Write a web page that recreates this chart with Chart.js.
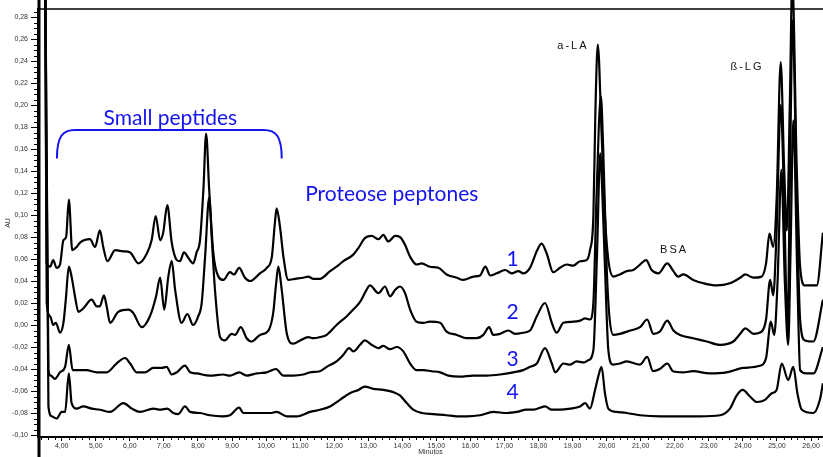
<!DOCTYPE html>
<html>
<head>
<meta charset="utf-8">
<script src="https://cdn.jsdelivr.net/npm/chart.js@4.4.0/dist/chart.umd.min.js"></script>
<style>
  html, body { margin: 0; padding: 0; background: #fff; }
</style>
</head>
<body>
<canvas id="myChart" width="823" height="457"></canvas>
<script>
// retention time (min) and absorbance (AU) for the four whey samples
var time1 = [3.40, 3.50, 3.56, 3.66, 3.75, 3.85, 3.95, 4.05, 4.13, 4.21,
  4.31, 4.44, 4.54, 4.83, 4.98, 5.12, 5.22, 5.34, 5.57, 5.81,
  6.01, 6.25, 6.50, 6.64, 6.76, 6.89, 6.98, 7.10, 7.23, 7.38,
  7.47, 7.59, 7.72, 7.86, 7.96, 8.06, 8.16, 8.24, 8.33, 8.45,
  8.60, 8.75, 8.94, 9.06, 9.21, 9.38, 9.53, 9.82, 10.02, 10.17,
  10.26, 10.31, 10.41, 10.51, 10.65, 10.85, 11.09, 11.24, 11.39, 11.58,
  11.88, 12.07, 12.27, 12.56, 12.71, 12.90, 13.10, 13.30, 13.44, 13.59,
  13.79, 13.93, 14.08, 14.23, 14.42, 14.57, 14.81, 15.06, 15.30, 15.60,
  15.79, 16.09, 16.28, 16.44, 16.58, 16.77, 17.02, 17.21, 17.41, 17.55,
  17.75, 17.96, 18.09, 18.24, 18.43, 18.63, 18.83, 19.02, 19.22, 19.41,
  19.51, 19.61, 19.67, 19.74, 19.85, 19.95, 20.05, 20.20, 20.39, 20.59,
  20.78, 20.98, 21.16, 21.32, 21.52, 21.78, 21.96, 22.10, 22.25, 22.54,
  22.84, 23.23, 23.62, 23.92, 24.07, 24.31, 24.55, 24.68, 24.78, 24.89,
  24.99, 25.11, 25.21, 25.29, 25.38, 25.45, 25.58, 25.68, 25.82, 26.17,
  26.35];
var trace1 = [0.45, 0.40, 0.056, 0.053, 0.059, 0.052, 0.055, 0.077, 0.080, 0.114,
  0.068, 0.071, 0.075, 0.078, 0.071, 0.086, 0.071, 0.058, 0.068, 0.067,
  0.066, 0.056, 0.065, 0.077, 0.099, 0.077, 0.084, 0.109, 0.075, 0.059,
  0.058, 0.066, 0.061, 0.056, 0.066, 0.077, 0.123, 0.174, 0.123, 0.066,
  0.044, 0.041, 0.048, 0.046, 0.052, 0.043, 0.040, 0.047, 0.052, 0.062,
  0.093, 0.106, 0.089, 0.062, 0.041, 0.042, 0.043, 0.044, 0.042, 0.042,
  0.049, 0.053, 0.058, 0.064, 0.070, 0.079, 0.081, 0.078, 0.082, 0.076,
  0.081, 0.080, 0.073, 0.062, 0.055, 0.056, 0.053, 0.052, 0.046, 0.043,
  0.041, 0.044, 0.045, 0.053, 0.045, 0.047, 0.050, 0.047, 0.049, 0.047,
  0.052, 0.068, 0.074, 0.065, 0.048, 0.052, 0.055, 0.054, 0.058, 0.059,
  0.068, 0.099, 0.195, 0.255, 0.175, 0.099, 0.059, 0.044, 0.046, 0.049,
  0.050, 0.055, 0.059, 0.050, 0.047, 0.056, 0.049, 0.044, 0.046, 0.041,
  0.038, 0.036, 0.038, 0.043, 0.046, 0.043, 0.044, 0.056, 0.083, 0.071,
  0.114, 0.239, 0.144, 0.086, 0.205, 0.314, 0.144, 0.053, 0.036, 0.036,
  0.084];

var time2 = [3.40, 3.50, 3.56, 3.66, 3.75, 3.83, 3.95, 4.05, 4.12, 4.21,
  4.29, 4.39, 4.49, 4.63, 4.88, 5.03, 5.12, 5.24, 5.32, 5.42,
  5.66, 5.96, 6.10, 6.35, 6.59, 6.77, 6.89, 7.01, 7.13, 7.23,
  7.33, 7.52, 7.69, 7.86, 8.01, 8.11, 8.21, 8.33, 8.41, 8.50,
  8.65, 8.79, 8.99, 9.09, 9.26, 9.43, 9.58, 9.82, 10.07, 10.21,
  10.29, 10.36, 10.46, 10.61, 10.80, 11.00, 11.24, 11.39, 11.58, 11.78,
  12.07, 12.37, 12.56, 12.76, 12.95, 13.05, 13.30, 13.49, 13.64, 13.79,
  13.93, 14.08, 14.23, 14.42, 14.62, 14.81, 15.11, 15.30, 15.60, 15.89,
  16.18, 16.38, 16.55, 16.67, 16.87, 17.11, 17.31, 17.55, 17.75, 17.95,
  18.19, 18.39, 18.53, 18.73, 19.02, 19.22, 19.37, 19.51, 19.61, 19.70,
  19.83, 19.90, 20.00, 20.08, 20.20, 20.39, 20.69, 20.98, 21.19, 21.37,
  21.56, 21.78, 21.96, 22.15, 22.54, 22.94, 23.33, 23.72, 23.92, 24.07,
  24.31, 24.55, 24.68, 24.80, 24.89, 24.99, 25.11, 25.21, 25.31, 25.38,
  25.46, 25.58, 25.68, 25.82, 26.07, 26.35];
var trace2 = [0.45, 0.40, 0.020, 0.008, 0.000, 0.002, -0.007, 0.002, 0.023, 0.053,
  0.044, 0.026, 0.012, 0.015, 0.023, 0.017, 0.017, 0.027, 0.017, 0.002,
  0.012, 0.014, 0.011, -0.002, 0.008, 0.026, 0.043, 0.014, 0.044, 0.058,
  0.032, 0.002, 0.010, 0.000, 0.008, 0.020, 0.062, 0.116, 0.077, 0.032,
  -0.011, -0.014, -0.008, -0.009, -0.002, -0.012, -0.015, -0.009, -0.005, 0.011,
  0.036, 0.053, 0.032, -0.008, -0.017, -0.014, -0.011, -0.012, -0.011, -0.009,
  0.000, 0.008, 0.014, 0.021, 0.032, 0.036, 0.029, 0.035, 0.026, 0.032,
  0.035, 0.029, 0.014, 0.003, 0.002, 0.003, 0.002, -0.006, -0.009, -0.012,
  -0.012, -0.009, -0.002, -0.009, -0.008, -0.005, -0.008, -0.007, -0.005, 0.008,
  0.020, 0.002, -0.007, 0.002, 0.003, 0.004, 0.006, 0.005, 0.020, 0.114,
  0.208, 0.159, 0.053, 0.008, -0.009, -0.008, -0.005, -0.002, 0.005, -0.008,
  -0.006, 0.004, -0.005, -0.009, -0.012, -0.015, -0.018, -0.015, -0.008, -0.003,
  -0.008, -0.006, 0.005, 0.041, 0.027, 0.086, 0.200, 0.114, -0.005, 0.132,
  0.277, 0.114, 0.005, -0.014, -0.015, 0.023];

var time3 = [3.40, 3.50, 3.61, 3.68, 3.80, 3.95, 4.10, 4.21, 4.32, 4.49,
  4.73, 5.03, 5.32, 5.61, 5.86, 6.01, 6.20, 6.45, 6.69, 6.94,
  7.08, 7.23, 7.38, 7.62, 7.77, 7.96, 8.35, 8.74, 8.94, 9.21,
  9.43, 9.73, 10.02, 10.29, 10.51, 10.80, 11.09, 11.29, 11.58, 11.78,
  12.07, 12.27, 12.44, 12.56, 12.76, 12.90, 13.10, 13.30, 13.44, 13.64,
  13.84, 14.03, 14.23, 14.42, 14.62, 14.86, 15.11, 15.35, 15.69, 16.08,
  16.48, 16.87, 17.26, 17.55, 17.75, 17.95, 18.19, 18.39, 18.49, 18.73,
  18.93, 19.12, 19.32, 19.46, 19.61, 19.72, 19.81, 19.88, 19.95, 20.05,
  20.18, 20.39, 20.59, 20.98, 21.19, 21.36, 21.56, 21.78, 21.95, 22.24,
  22.54, 23.03, 23.52, 24.01, 24.50, 24.68, 24.82, 24.92, 25.02, 25.13,
  25.23, 25.33, 25.40, 25.48, 25.60, 25.68, 25.86, 26.07, 26.35];
var trace3 = [0.45, 0.40, -0.041, -0.046, -0.049, -0.043, -0.038, -0.018, -0.041, -0.041,
  -0.041, -0.043, -0.043, -0.035, -0.030, -0.035, -0.043, -0.043, -0.039, -0.039,
  -0.038, -0.045, -0.043, -0.037, -0.043, -0.044, -0.046, -0.045, -0.046, -0.043,
  -0.046, -0.044, -0.043, -0.040, -0.046, -0.046, -0.045, -0.043, -0.042, -0.038,
  -0.033, -0.027, -0.021, -0.024, -0.018, -0.014, -0.018, -0.021, -0.019, -0.022,
  -0.020, -0.024, -0.035, -0.041, -0.041, -0.042, -0.043, -0.046, -0.047, -0.046,
  -0.046, -0.045, -0.043, -0.041, -0.038, -0.035, -0.021, -0.035, -0.043, -0.035,
  -0.036, -0.033, -0.034, -0.032, -0.023, 0.068, 0.156, 0.114, 0.053, -0.023,
  -0.036, -0.035, -0.033, -0.036, -0.029, -0.042, -0.040, -0.035, -0.042, -0.043,
  -0.042, -0.044, -0.043, -0.039, -0.037, -0.030, 0.003, -0.009, 0.041, 0.141,
  0.041, -0.018, 0.068, 0.186, 0.041, -0.041, -0.044, -0.044, -0.020];

var time4 = [3.40, 3.50, 3.61, 3.71, 3.85, 4.00, 4.10, 4.21, 4.29, 4.44,
  4.63, 4.88, 5.12, 5.42, 5.81, 6.06, 6.30, 6.69, 6.89, 7.10,
  7.28, 7.42, 7.62, 7.77, 8.06, 8.35, 8.70, 8.94, 9.21, 9.33,
  9.73, 10.12, 10.31, 10.61, 10.90, 11.29, 11.58, 11.88, 12.17, 12.46,
  12.71, 12.90, 13.15, 13.44, 13.74, 13.93, 14.13, 14.32, 14.57, 14.91,
  15.30, 15.60, 15.89, 16.28, 16.67, 17.07, 17.36, 17.65, 17.85, 18.19,
  18.39, 18.63, 18.93, 19.22, 19.37, 19.51, 19.66, 19.76, 19.85, 19.95,
  20.05, 20.29, 20.59, 20.98, 21.57, 22.15, 22.74, 23.33, 23.62, 23.82,
  23.99, 24.21, 24.41, 24.65, 24.85, 24.99, 25.14, 25.33, 25.48, 25.60,
  25.73, 26.07, 26.26, 26.35];
var trace4 = [0.45, 0.40, -0.074, -0.083, -0.085, -0.079, -0.079, -0.044, -0.071, -0.076,
  -0.074, -0.076, -0.077, -0.079, -0.071, -0.076, -0.079, -0.076, -0.077, -0.076,
  -0.080, -0.081, -0.074, -0.079, -0.080, -0.082, -0.083, -0.082, -0.075, -0.080,
  -0.080, -0.080, -0.079, -0.083, -0.083, -0.079, -0.077, -0.074, -0.068, -0.062,
  -0.059, -0.056, -0.058, -0.059, -0.061, -0.064, -0.071, -0.077, -0.080, -0.081,
  -0.082, -0.083, -0.083, -0.082, -0.079, -0.080, -0.079, -0.077, -0.077, -0.074,
  -0.077, -0.077, -0.076, -0.074, -0.071, -0.076, -0.059, -0.046, -0.038, -0.062,
  -0.076, -0.079, -0.080, -0.082, -0.083, -0.083, -0.083, -0.082, -0.076, -0.064,
  -0.059, -0.065, -0.070, -0.068, -0.062, -0.059, -0.035, -0.050, -0.038, -0.062,
  -0.077, -0.080, -0.068, -0.053];

// labelled ticks
var xTicks = [4, 5, 6, 7, 8, 9, 10, 11, 12, 13, 14, 15, 16, 17, 18, 19, 20, 21, 22, 23, 24, 25, 26];
var yTicks = [-0.10, -0.08, -0.06, -0.04, -0.02, 0.00, 0.02, 0.04, 0.06, 0.08, 0.10,
  0.12, 0.14, 0.16, 0.18, 0.20, 0.22, 0.24, 0.26, 0.28];

var BLUE = '#1414f0';

function series(times, values) {
  return times.map(function (t, i) { return { x: t, y: values[i] }; });
}

function trace(times, values) {
  return {
    data: series(times, values),
    borderColor: '#000',
    borderWidth: 2.2,
    pointRadius: 0,
    fill: false,
    cubicInterpolationMode: 'monotone',
    clip: { left: 0, top: 9, right: 0, bottom: 0 }
  };
}

function comma(v) {
  return v.toFixed(2).replace('.', ',');
}

// frame, minor ticks and the peak annotations
var decorations = {
  id: 'decorations',
  afterDraw: function (chart) {
    var c = chart.ctx, sx = chart.scales.x, sy = chart.scales.y, area = chart.chartArea;
    var i, p;
    c.save();
    c.strokeStyle = '#000';

    c.lineWidth = 1.5;
    c.beginPath();
    c.moveTo(area.left, area.top);
    c.lineTo(area.right, area.top);
    c.stroke();

    c.lineWidth = 3;
    c.beginPath();
    c.moveTo(area.left + 1, 0);
    c.lineTo(area.left + 1, chart.height);
    c.stroke();

    c.lineWidth = 1;
    c.beginPath();
    for (i = -20; i <= 57; i++) {
      if (i % 4 === 0) continue;
      p = Math.round(sy.getPixelForValue(i * 0.005)) + 0.5;
      c.moveTo(area.left - 4, p);
      c.lineTo(area.left, p);
    }
    for (i = 17; i <= 131; i++) {
      if (i % 5 === 0) continue;
      p = Math.round(sx.getPixelForValue(i * 0.2)) + 0.5;
      c.moveTo(p, area.bottom);
      c.lineTo(p, area.bottom + 3);
    }
    c.stroke();

    // bracket over the small peptide region
    var x0 = sx.getPixelForValue(3.86), x1 = sx.getPixelForValue(10.46);
    var yb = sy.getPixelForValue(0.1515), yt = sy.getPixelForValue(0.1773);
    c.strokeStyle = BLUE;
    c.lineWidth = 2;
    c.beginPath();
    c.moveTo(x0, yb);
    c.bezierCurveTo(x0, yt + 6, x0 + 6, yt, x0 + 18, yt);
    c.lineTo(x1 - 18, yt);
    c.bezierCurveTo(x1 - 6, yt, x1, yt + 6, x1, yb);
    c.stroke();

    var notes = [
      { text: 'Small peptides', t: 7.19, v: 0.182, blue: true },
      { text: 'Proteose peptones', t: 13.69, v: 0.113, blue: true },
      { text: '1', t: 17.24, v: 0.054, blue: true },
      { text: '2', t: 17.24, v: 0.0055, blue: true },
      { text: '3', t: 17.24, v: -0.037, blue: true },
      { text: '4', t: 17.24, v: -0.0675, blue: true },
      { text: 'a-LA', t: 19.01, v: 0.251, blue: false },
      { text: 'ß-LG', t: 24.12, v: 0.232, blue: false },
      { text: 'BSA', t: 21.98, v: 0.0655, blue: false }
    ];
    c.textAlign = 'center';
    c.textBaseline = 'alphabetic';
    notes.forEach(function (n) {
      if (n.blue) {
        c.font = '21px Lato';
        c.fillStyle = BLUE;
        c.letterSpacing = '0px';
      } else {
        c.font = '11px "Liberation Sans"';
        c.fillStyle = '#111';
        c.letterSpacing = '2px';
      }
      c.fillText(n.text, sx.getPixelForValue(n.t), sy.getPixelForValue(n.v));
    });
    c.restore();
  }
};

var ctx = document.getElementById('myChart').getContext('2d');
var chart = new Chart(ctx, {
  type: 'line',
  data: {
    datasets: [
      trace(time1, trace1),
      trace(time2, trace2),
      trace(time3, trace3),
      trace(time4, trace4)
    ]
  },
  options: {
    responsive: false,
    animation: false,
    layout: { padding: { top: 9, right: 0, bottom: 0, left: 0 } },
    plugins: { legend: { display: false }, tooltip: { enabled: false } },
    scales: {
      x: {
        type: 'linear',
        min: 3.304,
        max: 26.352,
        afterBuildTicks: function (scale) {
          scale.ticks = xTicks.map(function (v) { return { value: v }; });
        },
        afterFit: function (scale) { scale.height = 20; },
        ticks: {
          autoSkip: false,
          maxRotation: 0,
          padding: 1,
          color: '#333',
          font: { family: 'Liberation Sans', size: 7 },
          callback: function (v) { return comma(v); }
        },
        grid: { drawOnChartArea: false, drawTicks: true, tickLength: 4, color: '#000' },
        border: { display: true, color: '#000', width: 2 },
        title: {
          display: true,
          text: 'Minutos',
          color: '#333',
          font: { family: 'Liberation Sans', size: 7 },
          padding: { top: 0, bottom: 1 }
        }
      },
      y: {
        min: -0.1018,
        max: 0.2873,
        afterBuildTicks: function (scale) {
          scale.ticks = yTicks.map(function (v) { return { value: v }; });
        },
        afterFit: function (scale) { scale.width = 38; },
        ticks: {
          autoSkip: false,
          padding: 3,
          color: '#333',
          font: { family: 'Liberation Sans', size: 7 },
          callback: function (v) { return comma(v); }
        },
        grid: { drawOnChartArea: false, drawTicks: true, tickLength: 7, color: '#000' },
        border: { display: true, color: '#000', width: 3 },
        title: {
          display: true,
          text: 'AU',
          color: '#333',
          font: { family: 'Liberation Sans', size: 7 },
          padding: { top: 4, bottom: 0 }
        }
      }
    }
  },
  plugins: [decorations]
});
</script>
</body>
</html>
